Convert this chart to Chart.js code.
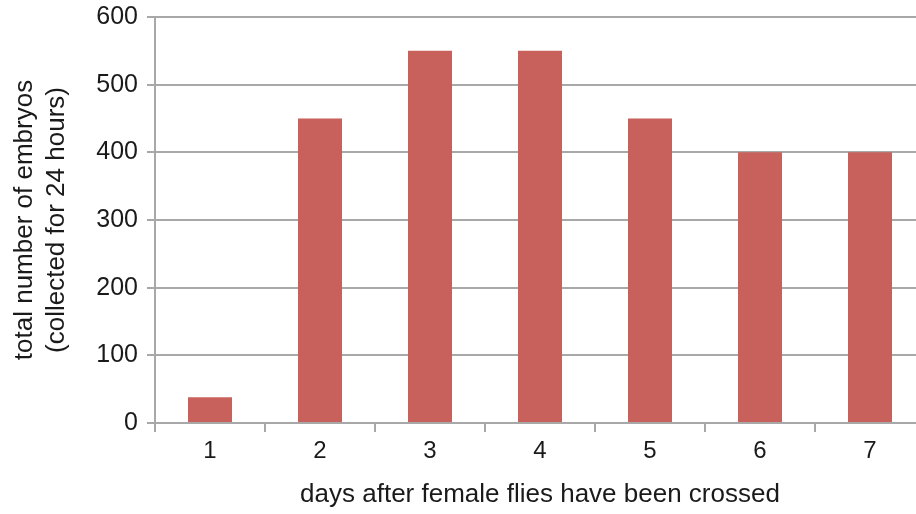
<!DOCTYPE html>
<html>
<head>
<meta charset="utf-8">
<script src="https://cdn.jsdelivr.net/npm/chart.js@4.4.1/dist/chart.umd.min.js"></script>
<style>
  html, body { margin: 0; padding: 0; background: #fff; overflow: hidden; }
  #wrap { width: 930px; height: 514px; }
</style>
</head>
<body>
<div id="wrap"><canvas id="c" width="930" height="514"></canvas></div>
<script>
// Embryos collected per day after crossing
const days = ['1', '2', '3', '4', '5', '6', '7'];
const embryos = [38, 450, 550, 550, 450, 400, 400];
const yTicks = [0, 100, 200, 300, 400, 500, 600];

const textColor = '#1a1a1a';
const lineColor = '#a8a8a8';
const fontFamily = '"Liberation Sans", Arial, sans-serif';

new Chart(document.getElementById('c'), {
  type: 'bar',
  data: {
    labels: days,
    datasets: [{
      data: embryos,
      backgroundColor: '#c8605b',
      borderWidth: 0,
      barPercentage: 0.4,
      categoryPercentage: 1.0
    }]
  },
  options: {
    responsive: false,
    animation: false,
    layout: { padding: { top: 17, right: 5, bottom: 0, left: 0 } },
    plugins: { legend: { display: false }, tooltip: { enabled: false } },
    scales: {
      x: {
        grid: {
          display: true,
          drawOnChartArea: false,
          drawTicks: true,
          tickLength: 9,
          color: lineColor,
          lineWidth: 2,
          offset: true
        },
        border: { display: true, color: lineColor, width: 2 },
        ticks: { color: textColor, font: { family: fontFamily, size: 24 }, padding: 5 },
        title: {
          display: true,
          text: 'days after female flies have been crossed',
          color: textColor,
          font: { family: fontFamily, size: 26 },
          padding: { top: 8, bottom: 4 }
        },
        afterFit: (s) => { s.height = 91; s.paddingLeft = 0; s.paddingRight = 0; }
      },
      y: {
        min: 0,
        max: 600,
        afterBuildTicks: (s) => { s.ticks = yTicks.map(v => ({ value: v })); },
        grid: {
          color: lineColor,
          lineWidth: 2,
          drawTicks: true,
          tickLength: 8
        },
        border: { display: true, color: lineColor, width: 2 },
        ticks: { color: textColor, font: { family: fontFamily, size: 25 }, padding: 9 },
        title: {
          display: true,
          text: ['total number of embryos', '(collected for 24 hours)'],
          color: textColor,
          font: { family: fontFamily, size: 26, lineHeight: 1.23 },
          padding: { top: 9, bottom: 0 }
        },
        afterFit: (s) => { s.width = 155; s.paddingTop = 0; s.paddingBottom = 0; }
      }
    }
  }
});
</script>
</body>
</html>
